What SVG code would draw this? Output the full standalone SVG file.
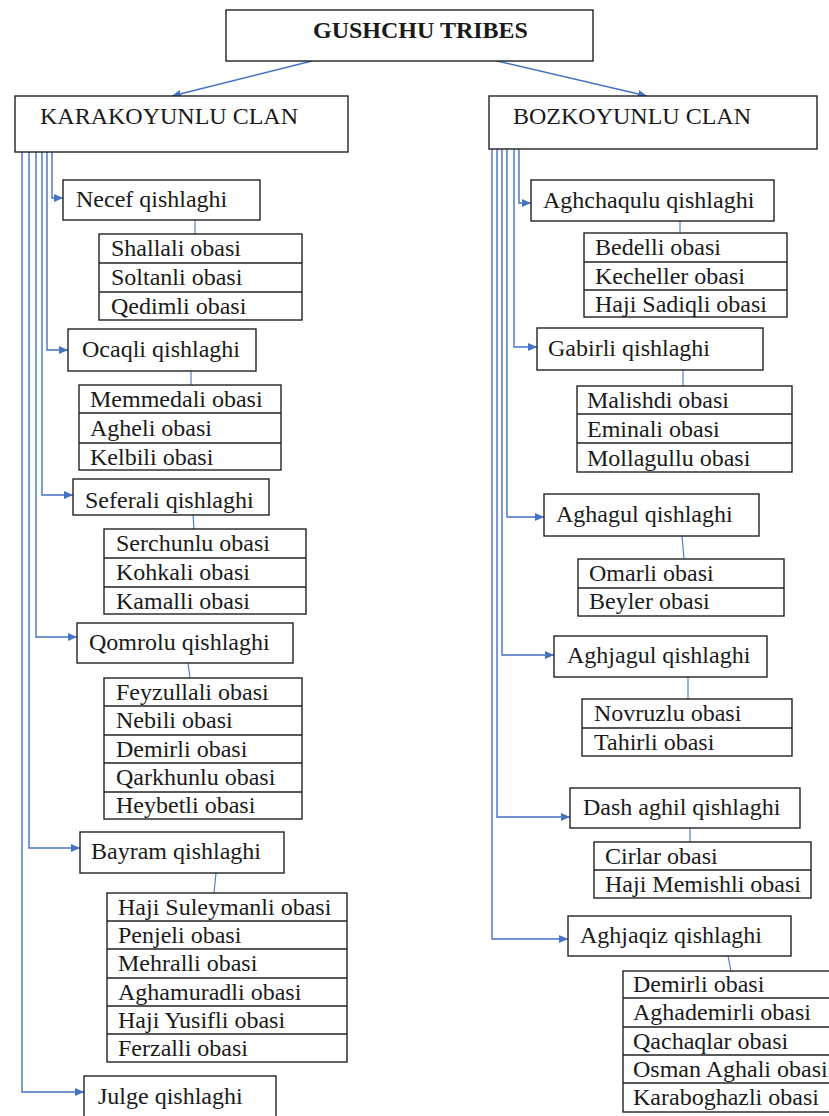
<svg xmlns="http://www.w3.org/2000/svg" width="829" height="1116" viewBox="0 0 829 1116">
<defs>
<style>
.box{fill:#fff;stroke:#222;stroke-width:1.4}
.div{stroke:#222;stroke-width:1.3}
.t{font-family:"Liberation Serif","Times New Roman",Tinos,"DejaVu Serif",serif;font-size:24px;font-weight:normal;font-style:normal;fill:#1a1a1a}
.b{font-weight:bold}
.conn{stroke:#4472c4;stroke-width:1.4;fill:none}
.thin{stroke:#4472c4;stroke-width:1.1;fill:none}
</style>
<marker id="ah" markerUnits="userSpaceOnUse" markerWidth="10" markerHeight="8" refX="9" refY="4" orient="auto">
<path d="M0,0 L9,4 L0,8 z" fill="#4472c4"/>
</marker>
</defs>
<rect width="829" height="1116" fill="#fff"/>

<g id="connectors">
<line class="conn" x1="312" y1="61" x2="172" y2="96" marker-end="url(#ah)"/>
<line class="conn" x1="497" y1="61" x2="647" y2="96" marker-end="url(#ah)"/>
<path class="conn" d="M52,152 V198 H63" marker-end="url(#ah)"/>
<path class="conn" d="M47,152 V350 H68" marker-end="url(#ah)"/>
<path class="conn" d="M42,152 V495 H73" marker-end="url(#ah)"/>
<path class="conn" d="M36,152 V637 H77" marker-end="url(#ah)"/>
<path class="conn" d="M29,152 V848 H80" marker-end="url(#ah)"/>
<path class="conn" d="M22,152 V1092 H84" marker-end="url(#ah)"/>
<path class="conn" d="M519,149 V203 H531" marker-end="url(#ah)"/>
<path class="conn" d="M514,149 V347 H537" marker-end="url(#ah)"/>
<path class="conn" d="M507,149 V517 H544" marker-end="url(#ah)"/>
<path class="conn" d="M502,149 V655 H554" marker-end="url(#ah)"/>
<path class="conn" d="M497,149 V817 H570" marker-end="url(#ah)"/>
<path class="conn" d="M492,149 V939 H568" marker-end="url(#ah)"/>
<line class="thin" x1="195" y1="220" x2="195" y2="234"/>
<line class="thin" x1="191" y1="371" x2="191" y2="385"/>
<line class="thin" x1="193" y1="515" x2="194" y2="529"/>
<line class="thin" x1="188" y1="663" x2="190" y2="678"/>
<line class="thin" x1="216" y1="873" x2="214" y2="893"/>
<line class="thin" x1="680" y1="221" x2="680" y2="233"/>
<line class="thin" x1="683" y1="370" x2="683" y2="386"/>
<line class="thin" x1="682" y1="536" x2="684" y2="559"/>
<line class="thin" x1="688" y1="677" x2="688" y2="699"/>
<line class="thin" x1="690" y1="828" x2="690" y2="842"/>
<line class="thin" x1="728" y1="956" x2="731" y2="971"/>
</g>

<g id="gushchu">
<rect class="box" x="226" y="10" width="367" height="51"/>
<text class="t b" x="313" y="38">GUSHCHU TRIBES</text>
</g>
<g id="karakoyunlu">
<rect class="box" x="15" y="96" width="333" height="56"/>
<text class="t" x="40" y="124">KARAKOYUNLU CLAN</text>
</g>
<g id="bozkoyunlu">
<rect class="box" x="489" y="96" width="328" height="53"/>
<text class="t" x="513" y="124">BOZKOYUNLU CLAN</text>
</g>

<g id="necef">
<rect class="box" x="63" y="180" width="197" height="40"/>
<text class="t" x="76" y="207">Necef qishlaghi</text>
</g>
<g id="necef-obalar">
<rect class="box" x="99" y="234" width="203" height="86"/>
<line class="div" x1="99" y1="263" x2="302" y2="263"/>
<line class="div" x1="99" y1="292" x2="302" y2="292"/>
<text class="t" x="111" y="256">Shallali obasi</text>
<text class="t" x="111" y="285">Soltanli obasi</text>
<text class="t" x="111" y="314">Qedimli obasi</text>
</g>

<g id="ocaqli">
<rect class="box" x="68" y="329" width="188" height="42"/>
<text class="t" x="82" y="357">Ocaqli qishlaghi</text>
</g>
<g id="ocaqli-obalar">
<rect class="box" x="79" y="385" width="202" height="85"/>
<line class="div" x1="79" y1="413" x2="281" y2="413"/>
<line class="div" x1="79" y1="443" x2="281" y2="443"/>
<text class="t" x="90" y="407">Memmedali obasi</text>
<text class="t" x="90" y="436">Agheli obasi</text>
<text class="t" x="90" y="465">Kelbili obasi</text>
</g>

<g id="seferali">
<rect class="box" x="73" y="479" width="196" height="36"/>
<text class="t" x="85" y="508">Seferali qishlaghi</text>
</g>
<g id="seferali-obalar">
<rect class="box" x="104" y="529" width="202" height="85"/>
<line class="div" x1="104" y1="558" x2="306" y2="558"/>
<line class="div" x1="104" y1="587" x2="306" y2="587"/>
<text class="t" x="116" y="551">Serchunlu obasi</text>
<text class="t" x="116" y="580">Kohkali obasi</text>
<text class="t" x="116" y="609">Kamalli obasi</text>
</g>

<g id="qomrolu">
<rect class="box" x="77" y="623" width="216" height="40"/>
<text class="t" x="89" y="650">Qomrolu qishlaghi</text>
</g>
<g id="qomrolu-obalar">
<rect class="box" x="104" y="678" width="198" height="141"/>
<line class="div" x1="104" y1="706" x2="302" y2="706"/>
<line class="div" x1="104" y1="735" x2="302" y2="735"/>
<line class="div" x1="104" y1="763" x2="302" y2="763"/>
<line class="div" x1="104" y1="792" x2="302" y2="792"/>
<text class="t" x="116" y="700">Feyzullali obasi</text>
<text class="t" x="116" y="728">Nebili obasi</text>
<text class="t" x="116" y="757">Demirli obasi</text>
<text class="t" x="116" y="785">Qarkhunlu obasi</text>
<text class="t" x="116" y="813">Heybetli obasi</text>
</g>

<g id="bayram">
<rect class="box" x="80" y="832" width="204" height="41"/>
<text class="t" x="91" y="859">Bayram qishlaghi</text>
</g>
<g id="bayram-obalar">
<rect class="box" x="107" y="893" width="240" height="169"/>
<line class="div" x1="107" y1="921" x2="347" y2="921"/>
<line class="div" x1="107" y1="949" x2="347" y2="949"/>
<line class="div" x1="107" y1="978" x2="347" y2="978"/>
<line class="div" x1="107" y1="1006" x2="347" y2="1006"/>
<line class="div" x1="107" y1="1034" x2="347" y2="1034"/>
<text class="t" x="118" y="915">Haji Suleymanli obasi</text>
<text class="t" x="118" y="943">Penjeli obasi</text>
<text class="t" x="118" y="971">Mehralli obasi</text>
<text class="t" x="118" y="1000">Aghamuradli obasi</text>
<text class="t" x="118" y="1028">Haji Yusifli obasi</text>
<text class="t" x="118" y="1056">Ferzalli obasi</text>
</g>

<g id="julge">
<rect class="box" x="84" y="1076" width="192" height="50"/>
<text class="t" x="98" y="1104">Julge qishlaghi</text>
</g>

<g id="aghchaqulu">
<rect class="box" x="531" y="180" width="243" height="41"/>
<text class="t" x="543" y="208">Aghchaqulu qishlaghi</text>
</g>
<g id="aghchaqulu-obalar">
<rect class="box" x="584" y="233" width="203" height="84"/>
<line class="div" x1="584" y1="262" x2="787" y2="262"/>
<line class="div" x1="584" y1="290" x2="787" y2="290"/>
<text class="t" x="595" y="255">Bedelli obasi</text>
<text class="t" x="595" y="284">Kecheller obasi</text>
<text class="t" x="595" y="312">Haji Sadiqli obasi</text>
</g>

<g id="gabirli">
<rect class="box" x="537" y="328" width="226" height="42"/>
<text class="t" x="548" y="356">Gabirli qishlaghi</text>
</g>
<g id="gabirli-obalar">
<rect class="box" x="577" y="386" width="215" height="86"/>
<line class="div" x1="577" y1="414" x2="792" y2="414"/>
<line class="div" x1="577" y1="443" x2="792" y2="443"/>
<text class="t" x="587" y="408">Malishdi obasi</text>
<text class="t" x="587" y="437">Eminali obasi</text>
<text class="t" x="587" y="466">Mollagullu obasi</text>
</g>

<g id="aghagul">
<rect class="box" x="544" y="494" width="215" height="42"/>
<text class="t" x="556" y="522">Aghagul qishlaghi</text>
</g>
<g id="aghagul-obalar">
<rect class="box" x="578" y="559" width="206" height="57"/>
<line class="div" x1="578" y1="588" x2="784" y2="588"/>
<text class="t" x="589" y="581">Omarli obasi</text>
<text class="t" x="589" y="609">Beyler obasi</text>
</g>

<g id="aghjagul">
<rect class="box" x="554" y="636" width="213" height="41"/>
<text class="t" x="567" y="663">Aghjagul qishlaghi</text>
</g>
<g id="aghjagul-obalar">
<rect class="box" x="582" y="699" width="210" height="57"/>
<line class="div" x1="582" y1="728" x2="792" y2="728"/>
<text class="t" x="594" y="721">Novruzlu obasi</text>
<text class="t" x="594" y="750">Tahirli obasi</text>
</g>

<g id="dashaghil">
<rect class="box" x="570" y="788" width="230" height="40"/>
<text class="t" x="583" y="815">Dash aghil qishlaghi</text>
</g>
<g id="dashaghil-obalar">
<rect class="box" x="594" y="842" width="217" height="56"/>
<line class="div" x1="594" y1="870" x2="811" y2="870"/>
<text class="t" x="605" y="864">Cirlar obasi</text>
<text class="t" x="605" y="892">Haji Memishli obasi</text>
</g>

<g id="aghjaqiz">
<rect class="box" x="568" y="916" width="223" height="40"/>
<text class="t" x="580" y="943">Aghjaqiz qishlaghi</text>
</g>
<g id="aghjaqiz-obalar">
<rect class="box" x="623" y="971" width="215" height="141"/>
<line class="div" x1="623" y1="998" x2="838" y2="998"/>
<line class="div" x1="623" y1="1027" x2="838" y2="1027"/>
<line class="div" x1="623" y1="1055" x2="838" y2="1055"/>
<line class="div" x1="623" y1="1083" x2="838" y2="1083"/>
<text class="t" x="633" y="992">Demirli obasi</text>
<text class="t" x="633" y="1020">Aghademirli obasi</text>
<text class="t" x="633" y="1049">Qachaqlar obasi</text>
<text class="t" x="633" y="1077">Osman Aghali obasi</text>
<text class="t" x="633" y="1105">Karaboghazli obasi</text>
</g>
</svg>
